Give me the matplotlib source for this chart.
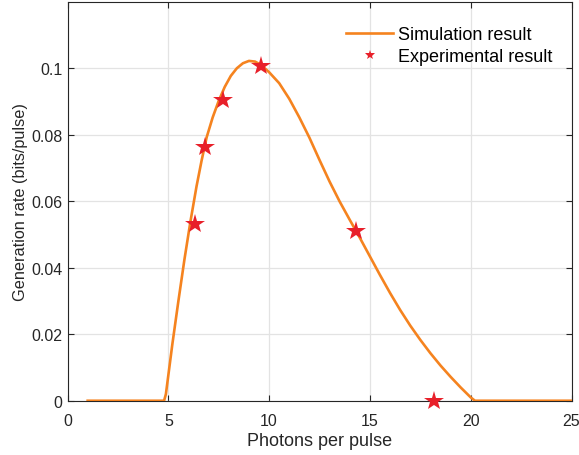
import matplotlib
matplotlib.use("Agg")
import matplotlib.pyplot as plt

plt.rcParams['font.family'] = ['Liberation Sans', 'DejaVu Sans']

# simulation curve
sim_x = [1.0, 4.79, 4.88, 5.2, 5.5, 5.8, 6.1, 6.4, 6.65, 6.9, 7.2, 7.5, 7.8,
         8.1, 8.4, 8.7, 9.0, 9.3, 9.6, 10.0, 10.5, 11.0, 11.5, 12.0, 12.5,
         13.0, 13.5, 14.0, 14.5, 15.0, 15.5, 16.0, 16.5, 17.0, 17.5, 18.0,
         18.5, 19.0, 19.5, 20.0, 20.21, 25.0]
sim_y = [0, 0, 0.002, 0.017, 0.030, 0.0425, 0.054, 0.0645, 0.0722, 0.0792, 0.0852, 0.0902, 0.0944,
         0.0977, 0.1000, 0.1015, 0.1022, 0.1020, 0.1010, 0.0988, 0.0955, 0.0908, 0.0852, 0.0791, 0.0724,
         0.0659, 0.0599, 0.0544, 0.0490, 0.0434, 0.0378, 0.0324, 0.0273, 0.0226, 0.0183, 0.0143,
         0.0106, 0.0072, 0.0040, 0.0010, 0, 0]

# experimental points
exp_x = [6.32, 6.82, 7.7, 9.62, 14.32, 18.18]
exp_y = [0.0531, 0.0762, 0.0904, 0.1007, 0.0511, 0.0]

xticks = [0, 5, 10, 15, 20, 25]
yticks = [0, 0.02, 0.04, 0.06, 0.08, 0.1]
ytick_labels = ['0', '0.02', '0.04', '0.06', '0.08', '0.1']

fig = plt.figure(figsize=(5.79, 4.56), dpi=100)
ax = fig.add_axes([0.1166, 0.119, 0.8705, 0.875])

ax.plot(sim_x, sim_y, color='#F5831F', linewidth=1.9, label='Simulation result', zorder=3)
ax.plot(exp_x, exp_y, linestyle='none', marker='*', markersize=15, color='#E8202A',
        markeredgewidth=0, label='Experimental result', zorder=4, clip_on=False)

ax.set_xlim(0, 25)
ax.set_ylim(0, 0.12)
ax.set_xticks(xticks)
ax.set_yticks(yticks)
ax.set_yticklabels(ytick_labels)
ax.grid(True, color='#e3e3e3', linewidth=0.9)
ax.set_axisbelow(True)
ax.tick_params(direction='in', length=4, top=True, right=True, labelsize=11.5,
               colors='#262626', width=0.8)
ax.tick_params(axis='x', pad=9)
for s in ax.spines.values():
    s.set_color('#262626')
    s.set_linewidth(0.8)

ax.set_xlabel('Photons per pulse', fontsize=13, color='#262626', labelpad=3)
ax.set_ylabel('Generation rate (bits/pulse)', fontsize=11.7, color='#262626', labelpad=2.5)

ax.legend(loc='upper right', bbox_to_anchor=(0.988, 0.97), frameon=False, fontsize=13,
          markerscale=0.5, handlelength=2.6, handletextpad=0.3, labelspacing=0.25,
          borderaxespad=0.3)

fig.savefig('out.png', dpi=100)
